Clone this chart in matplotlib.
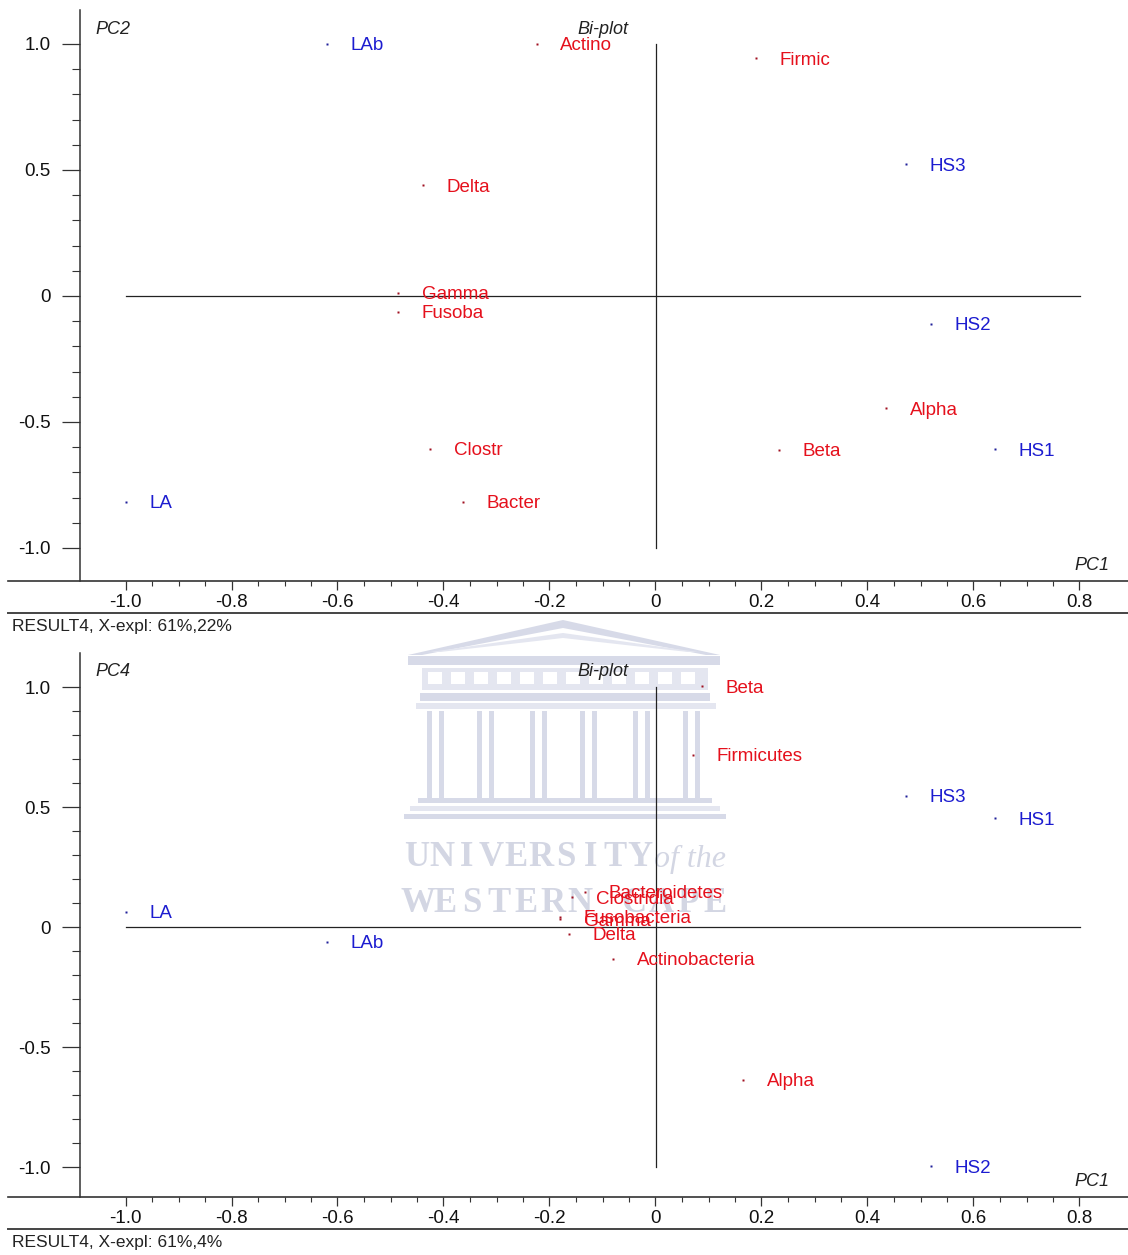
import numpy as np
import matplotlib
matplotlib.use("Agg")
import matplotlib.pyplot as plt
import matplotlib.transforms as mtransforms
from matplotlib.lines import Line2D
from matplotlib.patches import Polygon, Rectangle

plt.rcParams['font.family'] = ['Liberation Sans', 'DejaVu Sans']

W, H = 1128, 1255

# ---- PCA scores / loadings, PC1 vs PC2 ----
samples = ["LA", "LAb", "HS1", "HS2", "HS3"]
s_pc1 = [-1.0, -0.620, 0.640, 0.520, 0.473]
s_pc2 = [-0.816, 1.0, -0.608, -0.111, 0.522]

vars_short = ["Actino", "Firmic", "Delta", "Gamma", "Fusoba", "Alpha", "Clostr", "Beta", "Bacter"]
v_pc1 = [-0.224, 0.189, -0.439, -0.486, -0.486, 0.435, -0.425, 0.233, -0.363]
v_pc2 = [1.0, 0.943, 0.44, 0.012, -0.063, -0.446, -0.607, -0.611, -0.817]

# ---- PC1 vs PC4 ----
s4_pc1 = [-1.0, -0.620, 0.640, 0.520, 0.473]
s4_pc4 = [0.064, -0.0625, 0.454, -0.996, 0.546]

vars_long = ["Beta", "Firmicutes", "Bacteroidetes", "Clostridia", "Fusobacteria",
             "Gamma", "Delta", "Actinobacteria", "Alpha"]
v4_pc1 = [0.088, 0.071, -0.133, -0.157, -0.180, -0.180, -0.164, -0.080, 0.165]
v4_pc4 = [1.004, 0.717, 0.146, 0.125, 0.042, 0.033, -0.029, -0.133, -0.6375]

RED = "#e5101c"
BLUE = "#1c1cd0"
DOT_RED = "#a01020"
DOT_BLUE = "#20209a"
LOGO = "#e4e6f0"
LOGO_D = "#d7dae8"

fig = plt.figure(figsize=(W / 100, H / 100), dpi=100)
fig.patch.set_facecolor("white")

# pixel -> figure coords (origin top-left)
pix = mtransforms.Affine2D().scale(1 / W, -1 / H).translate(0, 1) + fig.transFigure


def fx(x):
    return x / W


def fy(y):
    return 1 - y / H


def watermark():
    # faint university crest behind the plots
    kw = dict(transform=pix, zorder=-10, lw=0)
    # pediment, double outline
    fig.patches.append(Polygon([[408, 655], [563, 620], [720, 655], [706, 655], [563, 628], [422, 655]],
                               closed=True, fc=LOGO_D, **kw))
    fig.patches.append(Polygon([[430, 652], [563, 633], [698, 652], [688, 652], [563, 638], [440, 652]],
                               closed=True, fc=LOGO, **kw))
    fig.patches.append(Rectangle((408, 656), 312, 9, fc=LOGO_D, **kw))
    # frieze with blocks
    fig.patches.append(Rectangle((422, 668), 286, 22, fc=LOGO, **kw))
    for bx in np.arange(428, 700, 23):
        fig.patches.append(Rectangle((bx, 672), 14, 12, fc="white", **kw))
    fig.patches.append(Rectangle((420, 693), 290, 8, fc=LOGO_D, **kw))
    fig.patches.append(Rectangle((416, 703), 300, 6, fc=LOGO, **kw))
    # columns
    for cx in [427, 477, 530, 580, 633, 683]:
        fig.patches.append(Rectangle((cx, 711), 5, 87, fc=LOGO_D, **kw))
        fig.patches.append(Rectangle((cx + 12, 711), 5, 87, fc=LOGO_D, **kw))
    # steps
    fig.patches.append(Rectangle((418, 798), 294, 5, fc=LOGO_D, **kw))
    fig.patches.append(Rectangle((410, 806), 310, 5, fc=LOGO, **kw))
    fig.patches.append(Rectangle((404, 814), 322, 5, fc=LOGO_D, **kw))
    tkw = dict(family=["Liberation Serif", "DejaVu Serif"], color="#d3d6e3", zorder=-10,
               ha="center", va="center")
    for i, ch in enumerate("UNIVERSITY"):
        fig.text(fx(417 + i * 24.8), fy(857), ch, fontsize=25, weight="bold", **tkw)
    fig.text(fx(690), fy(859), "of the", fontsize=23, style="italic", **tkw)
    for i, ch in enumerate("WESTERN CAPE"):
        if ch != " ":
            fig.text(fx(418 + i * 27.0), fy(904), ch, fontsize=25, weight="bold", **tkw)


def panel(top, bottom, zero_y, ppu, s_x, s_y, v_x, v_y, v_names, ylab, caption):
    x0, ppx = 655.5, 530.0
    ax = fig.add_axes([fx(80), fy(bottom), fx(W) - fx(80), fy(top) - fy(bottom)])
    ax.set_facecolor("none")
    ax.set_xlim((80 - x0) / ppx, (W - x0) / ppx)
    ax.set_ylim((zero_y - bottom) / ppu, (zero_y - top) / ppu)
    for side in ["top", "right", "bottom"]:
        ax.spines[side].set_visible(False)
    ax.spines["left"].set_color("#333333")
    ax.spines["left"].set_linewidth(1.1)

    ax.set_xticks(np.arange(-1.0, 0.81, 0.2))
    ax.set_xticklabels(["-1.0", "-0.8", "-0.6", "-0.4", "-0.2", "0", "0.2", "0.4", "0.6", "0.8"])
    ax.set_xticks(np.arange(-1.0, 0.81, 0.05), minor=True)
    ax.set_yticks([-1.0, -0.5, 0, 0.5, 1.0])
    ax.set_yticklabels(["-1.0", "-0.5", "0", "0.5", "1.0"])
    ax.set_yticks(np.arange(-1.0, 1.01, 0.1), minor=True)
    ax.tick_params(axis="x", which="major", direction="out", length=6.5, width=0.9,
                   color="#333333", labelsize=13.5, labelcolor="#111111", pad=3)
    ax.tick_params(axis="x", which="minor", direction="out", length=3.5, width=0.8, color="#333333")
    ax.tick_params(axis="y", which="major", direction="out", length=13, width=0.9,
                   color="#333333", labelsize=13.5, labelcolor="#111111", pad=8)
    ax.tick_params(axis="y", which="minor", direction="out", length=6, width=0.8, color="#333333")

    # origin cross
    ax.plot([-1.0, 0.8], [0, 0], color="#222222", lw=0.9)
    ax.plot([0, 0], [-1.0, 1.0], color="#222222", lw=0.9)

    ax.plot(v_x, v_y, ls="none", marker="s", ms=2.0, color=DOT_RED, mec="none")
    ax.plot(s_x, s_y, ls="none", marker="s", ms=2.0, color=DOT_BLUE, mec="none")
    for name, x, y in zip(v_names, v_x, v_y):
        ax.annotate(name, (x, y), xytext=(17, 0), textcoords="offset points",
                    ha="left", va="center_baseline", fontsize=13.5, color=RED)
    for name, x, y in zip(samples, s_x, s_y):
        ax.annotate(name, (x, y), xytext=(17, 0), textcoords="offset points",
                    ha="left", va="center_baseline", fontsize=13.5, color=BLUE)

    # frame lines under the x axis
    fig.add_artist(Line2D([fx(8), fx(W)], [fy(bottom), fy(bottom)], color="#333333", lw=1.2))
    fig.add_artist(Line2D([fx(8), fx(W)], [fy(bottom + 32), fy(bottom + 32)], color="#444444", lw=1.4))

    fig.text(fx(95), fy(top + 19), ylab, fontsize=13, style="italic", color="#222222",
             ha="left", va="center")
    fig.text(fx(603), fy(top + 19), "Bi-plot", fontsize=13, style="italic", color="#222222",
             ha="center", va="center")
    fig.text(fx(1092), fy(bottom - 15), "PC1", fontsize=13, style="italic", color="#222222",
             ha="center", va="center")
    fig.text(fx(12), fy(bottom + 46), caption, fontsize=12.5, color="#222222",
             ha="left", va="center")
    return ax


watermark()
panel(10, 581, 296, 252.0, s_pc1, s_pc2, v_pc1, v_pc2, vars_short, "PC2",
      "RESULT4, X-expl: 61%,22%")
panel(653, 1197, 927, 240.0, s4_pc1, s4_pc4, v4_pc1, v4_pc4, vars_long, "PC4",
      "RESULT4, X-expl: 61%,4%")

fig.savefig("out.png", dpi=100)
